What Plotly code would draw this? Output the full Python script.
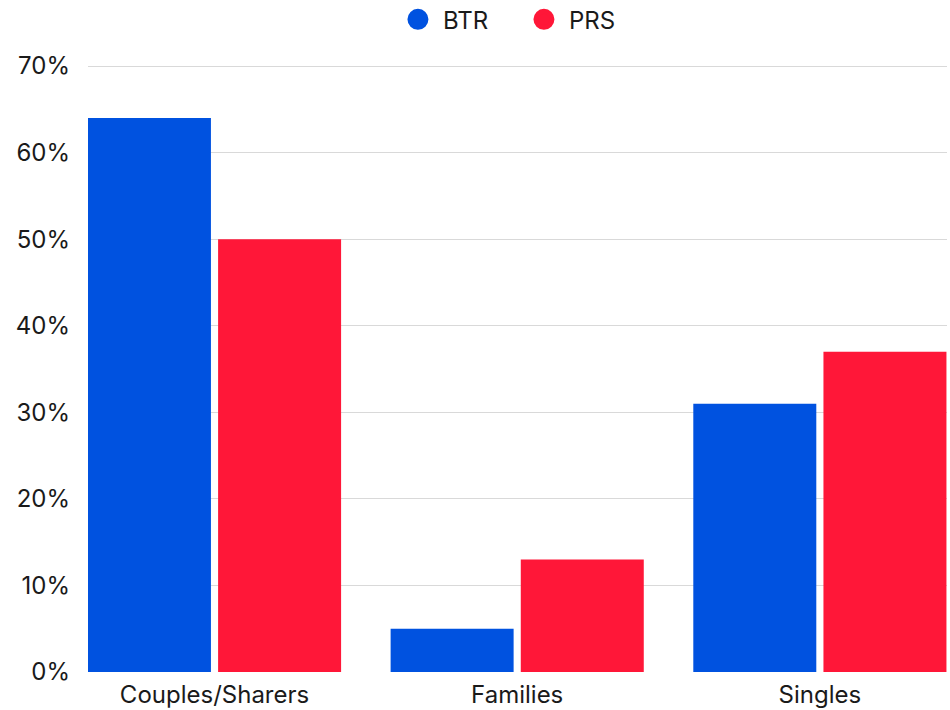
import plotly.graph_objects as go

categories = ["Couples/Sharers", "Families", "Singles"]
btr = [64, 5, 31]
prs = [50, 13, 37]
series_names = ["BTR", "PRS"]
colors = ["#0052E0", "#FF1738"]
y_ticks = [0, 10, 20, 30, 40, 50, 60, 70]
y_tick_labels = [f"{v}%" for v in y_ticks]

FONT = "Inter, Noto Sans, sans-serif"

fig = go.Figure()
for name, vals, col in zip(series_names, [btr, prs], colors):
    fig.add_trace(go.Bar(x=categories, y=vals, name=name, marker=dict(color=col, line=dict(width=0)),
                         showlegend=False))
# legend entries with circle markers
for name, col in zip(series_names, colors):
    fig.add_trace(go.Scatter(x=[None], y=[None], mode="markers", name=name,
                             marker=dict(symbol="circle", size=25, color=col,
                                         line=dict(color=col, width=5))))

fig.update_layout(
    width=950, height=710,
    margin=dict(l=88, r=3, t=63, b=38, autoexpand=False),
    paper_bgcolor="white", plot_bgcolor="white",
    font=dict(family=FONT, size=24, color="#1a1a1a"),
    barmode="group", bargap=0.14, bargroupgap=0.055,
    legend=dict(orientation="h", x=0.355, xanchor="left", y=1.071, yanchor="middle",
                font=dict(size=24), itemwidth=40, entrywidth=71, entrywidthmode="pixels"),
    xaxis=dict(type="category", range=[-0.418, 2.42], showgrid=False, showline=False,
               ticks="", tickfont=dict(size=24), automargin=False, ticklabelstandoff=6),
    yaxis=dict(range=[0, 70.35], tickvals=y_ticks, ticktext=y_tick_labels, showgrid=True,
               gridcolor="#d9d9d9", gridwidth=1, zeroline=False, showline=False,
               ticks="", ticklabelstandoff=17, tickfont=dict(size=24), automargin=False),
)

fig.write_html("out.html", config={"displayModeBar": False},
               post_script="document.body.style.margin='0';")
